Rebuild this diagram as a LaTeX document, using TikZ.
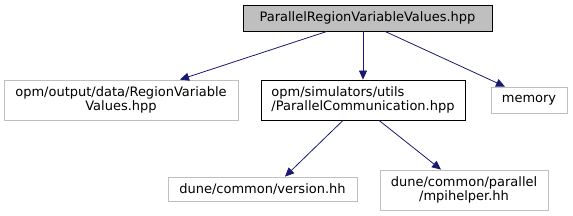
\documentclass[tikz,border=0pt]{standalone}
\usepackage{fontspec}
\setmainfont{DejaVu Sans}
\usetikzlibrary{arrows.meta}
\definecolor{edgeblue}{HTML}{191970}
\definecolor{graybox}{HTML}{BFBFBF}
\tikzset{
  box/.style={draw=graybox, line width=0.8pt, fill=white, inner sep=0pt, align=center, font=\fontsize{13}{14.5}\selectfont},
  mainbox/.style={box, draw=black, fill=graybox},
  docbox/.style={box, draw=black},
  dep/.style={draw=edgeblue, line width=0.8pt, -{Triangle[length=9pt,width=8pt]}}
}
\begin{document}
\begin{tikzpicture}[x=1pt,y=-1pt]
\useasboundingbox (0,0) rectangle (573,216);
\node[mainbox, minimum width=249pt, minimum height=26pt] (top) at (367.5,18) {ParallelRegionVariableValues.hpp};
\node[box, minimum width=234pt, minimum height=40pt] (region) at (121,100) {opm/output/data/RegionVariable\\Values.hpp};
\node[docbox, minimum width=204pt, minimum height=40pt, align=left] (comm) at (363,100) {opm/simulators/utils\\/ParallelCommunication.hpp};
\node[box, minimum width=76pt, minimum height=26pt] (mem) at (529,100) {memory};
\node[box, minimum width=189pt, minimum height=24pt] (ver) at (262.5,189) {dune/common/version.hh};
\node[box, minimum width=168pt, minimum height=40pt] (mpi) at (464,190) {dune/common/parallel\\/mpihelper.hh};
\coordinate (t1) at (top.south -| 327,0);
\coordinate (t3) at (top.south -| 385,0);
\coordinate (r1) at (region.north -| 180,0);
\coordinate (m1) at (mem.north -| 505,0);
\coordinate (c1) at (comm.south -| 343,0);
\coordinate (c2) at (comm.south -| 379,0);
\coordinate (v1) at (ver.north -| 285,0);
\coordinate (p1) at (mpi.north -| 441,0);
\draw[dep] (t1) -- (r1);
\draw[dep] (top.south -| comm.north) -- (comm);
\draw[dep] (t3) -- (m1);
\draw[dep] (c1) -- (v1);
\draw[dep] (c2) -- (p1);
\end{tikzpicture}
\end{document}
